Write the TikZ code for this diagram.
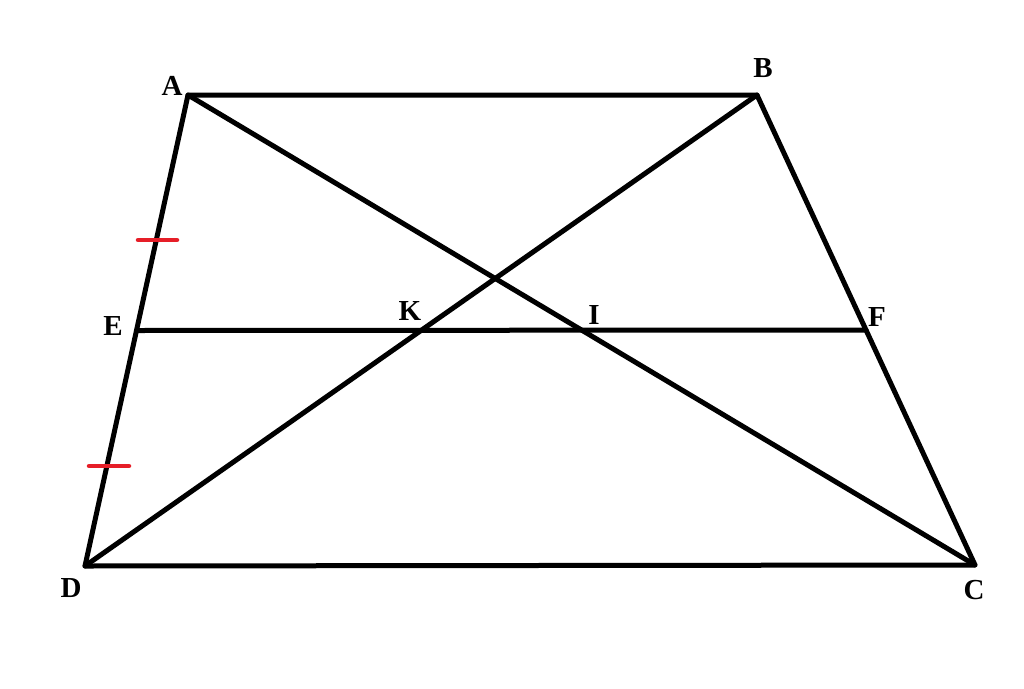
\documentclass[tikz,border=0pt]{standalone}
\usepackage{fontspec}
\setmainfont{Liberation Serif}
\usetikzlibrary{calc,intersections}
\begin{document}
\begin{tikzpicture}[x=1pt,y=-1pt,
  edge/.style={line width=5pt,line cap=round,line join=round},
  tick/.style={line width=4.5pt,draw={rgb,255:red,230;green,30;blue,40},line cap=round},
  lab/.style={font=\fontsize{29}{32}\selectfont\bfseries,inner sep=0pt}]
\useasboundingbox (0,0) rectangle (1024,688);
\coordinate (A) at (188,95);
\coordinate (B) at (757,95);
\coordinate (C) at (975,565);
\coordinate (D) at (85,566);
\coordinate (E) at ($(A)!0.5!(D)$);
\coordinate (F) at ($(B)!0.5!(C)$);
\draw[edge] (A) -- (B) -- (C) -- (D) -- cycle;
\draw[edge,name path=ac] (A) -- (C);
\draw[edge,name path=bd] (B) -- (D);
\draw[edge,name path=ef] (E) -- (F);
\path[name intersections={of=bd and ef,by=K}];
\path[name intersections={of=ac and ef,by=I}];
\coordinate (t1a) at (138,240);
\coordinate (t1b) at (177,240);
\coordinate (t2a) at (89,466);
\coordinate (t2b) at (129,466);
\draw[tick] (t1a) -- (t1b);
\draw[tick] (t2a) -- (t2b);
\node[lab] (lA) at (172,86) {A};
\node[lab] (lB) at (763,68) {B};
\node[lab] (lC) at (974,590) {C};
\node[lab] (lD) at (71,588) {D};
\node[lab] (lE) at (113,326) {E};
\node[lab] (lF) at (877,317) {F};
\node[lab] (lK) at (410,311) {K};
\node[lab] (lI) at (594,315) {I};
\end{tikzpicture}
\end{document}
